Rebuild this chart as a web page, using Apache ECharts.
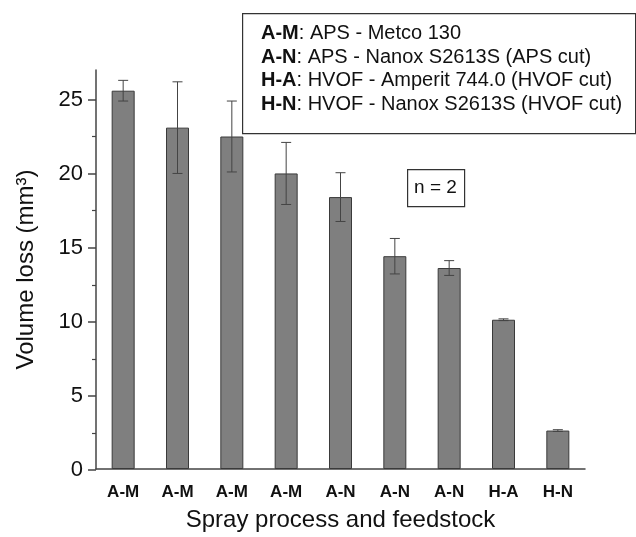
<!DOCTYPE html>
<html>
<head>
<meta charset="utf-8">
<script src="https://cdn.jsdelivr.net/npm/echarts@6/dist/echarts.min.js"></script>
<style>
  html, body { margin: 0; padding: 0; background: #fff; }
  #main { width: 636px; height: 537px; }
</style>
</head>
<body>
<div id="main"></div>
<script>
// data
var categories = ['A-M', 'A-M', 'A-M', 'A-M', 'A-N', 'A-N', 'A-N', 'H-A', 'H-N'];
var volumeLoss = [25.6, 23.1, 22.5, 20.0, 18.4, 14.4, 13.6, 10.1, 2.6];
var errorBars = [0.7, 3.1, 2.4, 2.1, 1.65, 1.2, 0.5, 0.06, 0.06];
var yTicks = [0, 5, 10, 15, 20, 25];
var legendCodes = ['A-M', 'A-N', 'H-A', 'H-N'];
var legendTexts = [': APS - Metco 130', ': APS - Nanox S2613S (APS cut)', ': HVOF - Amperit 744.0 (HVOF cut)', ': HVOF - Nanox S2613S (HVOF cut)'];

var font = 'Liberation Sans, Arial, sans-serif';
var chart = echarts.init(document.getElementById('main'));

var errData = volumeLoss.map(function (v, i) { return [i, v, errorBars[i]]; });

var legendLines = legendCodes.map(function (c, i) {
    return '{b|' + c + '}' + legendTexts[i];
}).join('\n');

var option = {
    animation: false,
    backgroundColor: '#fff',
    grid: [
        { left: 96, right: 51, top: 70, bottom: 67 },
        // second grid only carries the tick marks 0..25 (axis stops at 27 without a tick)
        { left: 96, right: 51, top: 70 + 2 * 400 / 27, bottom: 67 }
    ],
    xAxis: [{
        type: 'category',
        gridIndex: 0,
        data: categories,
        name: 'Spray process and feedstock',
        nameLocation: 'middle',
        nameGap: 39,
        nameTextStyle: { fontFamily: font, fontSize: 24, color: '#111' },
        axisLine: { lineStyle: { color: '#444', width: 1.5 } },
        axisTick: { alignWithLabel: true, length: 7, lineStyle: { color: '#444', width: 1.5 } },
        axisLabel: { fontFamily: font, fontSize: 17, fontWeight: 'bold', color: '#111', margin: 15 }
    }, {
        type: 'category',
        gridIndex: 1,
        data: categories,
        show: false
    }],
    yAxis: [{
        type: 'value',
        gridIndex: 0,
        min: 0,
        max: 27,
        name: 'Volume loss (mm³)',
        nameLocation: 'middle',
        nameGap: 58,
        nameTextStyle: { fontFamily: font, fontSize: 24, color: '#111' },
        axisLine: { show: true, lineStyle: { color: '#444', width: 1.5 } },
        axisTick: { show: false },
        axisLabel: { show: false },
        splitLine: { show: false }
    }, {
        type: 'value',
        gridIndex: 1,
        min: yTicks[0],
        max: yTicks[yTicks.length - 1],
        interval: 5,
        axisLine: { show: false },
        axisTick: { show: true, length: 8, lineStyle: { color: '#444', width: 1.5 } },
        minorTick: { show: true, splitNumber: 2, length: 4, lineStyle: { color: '#444', width: 1.2 } },
        axisLabel: { fontFamily: font, fontSize: 22, color: '#111', margin: 13 },
        splitLine: { show: false }
    }],
    series: [{
        type: 'bar',
        xAxisIndex: 0,
        yAxisIndex: 0,
        data: volumeLoss,
        barWidth: 23,
        itemStyle: { color: '#7f7f7f', borderColor: '#3a3a3a', borderWidth: 1 }
    }, {
        type: 'custom',
        xAxisIndex: 0,
        yAxisIndex: 0,
        data: errData,
        z: 5,
        renderItem: function (params, api) {
            var x = api.value(0), y = api.value(1), e = api.value(2);
            var hi = api.coord([x, y + e]);
            var lo = api.coord([x, y - e]);
            var w = 5;
            var st = { stroke: '#444', lineWidth: 1 };
            return {
                type: 'group',
                children: [
                    { type: 'line', shape: { x1: hi[0], y1: hi[1], x2: lo[0], y2: lo[1] }, style: st },
                    { type: 'line', shape: { x1: hi[0] - w, y1: hi[1], x2: hi[0] + w, y2: hi[1] }, style: st },
                    { type: 'line', shape: { x1: lo[0] - w, y1: lo[1], x2: lo[0] + w, y2: lo[1] }, style: st }
                ]
            };
        }
    }],
    graphic: [{
        type: 'rect',
        left: 242, top: 13,
        shape: { width: 393, height: 120 },
        style: { fill: '#fff', stroke: '#333', lineWidth: 1.2 },
        z: 10
    }, {
        type: 'text',
        left: 261, top: 22,
        z: 11,
        style: {
            text: legendLines,
            fontFamily: font,
            fontSize: 20,
            lineHeight: 23.5,
            fill: '#111',
            rich: {
                b: { fontFamily: font, fontSize: 20, fontWeight: 'bold', fill: '#111', lineHeight: 23.5 }
            }
        }
    }, {
        type: 'rect',
        left: 407, top: 169,
        shape: { width: 57, height: 37 },
        style: { fill: '#fff', stroke: '#333', lineWidth: 1.2 },
        z: 10
    }, {
        type: 'text',
        x: 435.5, y: 188,
        z: 11,
        style: {
            text: 'n = 2',
            fontFamily: font,
            fontSize: 19,
            fill: '#111',
            align: 'center',
            verticalAlign: 'middle'
        }
    }]
};

chart.setOption(option);
</script>
</body>
</html>
